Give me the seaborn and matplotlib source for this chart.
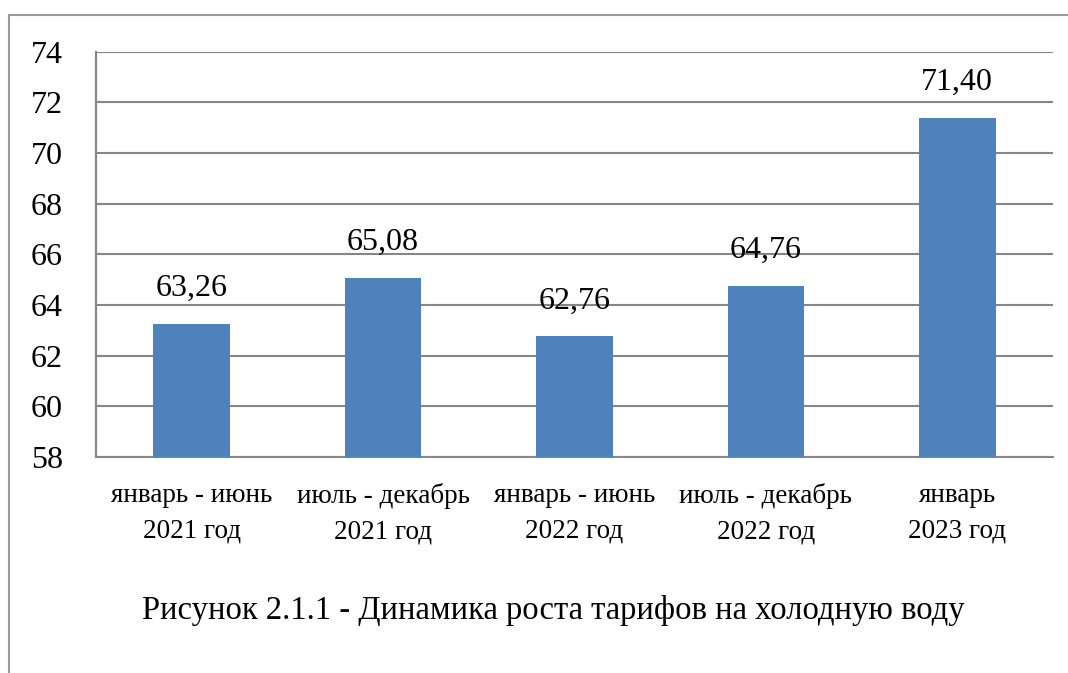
import numpy as np
import pandas as pd
import matplotlib
matplotlib.use("Agg")
import matplotlib.pyplot as plt
from matplotlib.lines import Line2D
import seaborn as sns

periods = ["январь - июнь\n2021 год", "июль - декабрь\n2021 год",
           "январь - июнь\n2022 год", "июль - декабрь\n2022 год",
           "январь\n2023 год"]
tariffs = [63.26, 65.08, 62.76, 64.76, 71.40]
y_ticks = [58, 60, 62, 64, 66, 68, 70, 72, 74]
caption = "Рисунок 2.1.1 - Динамика роста тарифов на холодную воду"

df = pd.DataFrame({"period": periods, "tariff": tariffs})

sns.set_style("white")
plt.rcParams["font.family"] = ["Liberation Serif", "DejaVu Serif"]
plt.rcParams["text.color"] = "black"
plt.rcParams["xtick.labelcolor"] = "black"
plt.rcParams["ytick.labelcolor"] = "black"

grid_col = "#868686"

fig = plt.figure(figsize=(10.68, 6.73), dpi=100)
ax = fig.add_axes([0.0899, 0.321, 0.896, 0.602])

sns.barplot(data=df, x="period", y="tariff", color="#4F81BD", width=0.4,
            saturation=1, linewidth=0, ax=ax, zorder=3)

ax.set_ylim(58, 74)
ax.set_xlim(-0.5, len(periods) - 0.5)
ax.set_yticks(y_ticks)
ax.set_yticklabels([str(t) for t in y_ticks], fontsize=23, color="black")
ax.yaxis.grid(True, color=grid_col, linewidth=1.5, zorder=0)
ax.set_axisbelow(True)

# category boundaries as major ticks, labels on minor ticks at centres
ax.set_xticks(np.arange(-0.5, len(periods)), labels=[""] * (len(periods) + 1))
ax.set_xticks(np.arange(len(periods)), minor=True)
ax.set_xticklabels(periods, minor=True, fontsize=19.5, linespacing=1.55, color="black")
ax.tick_params(axis="x", which="major", length=8, width=1.5, color=grid_col, direction="out")
ax.tick_params(axis="x", which="minor", length=0, pad=19)
ax.tick_params(axis="y", length=10, width=1.5, color=grid_col, direction="out", pad=14)

for s in ["top", "right"]:
    ax.spines[s].set_visible(False)
for s in ["left", "bottom"]:
    ax.spines[s].set_color(grid_col)
    ax.spines[s].set_linewidth(1.5)

ax.set_xlabel("")
ax.set_ylabel("")

for i, v in enumerate(tariffs):
    ax.annotate(f"{v:.2f}".replace(".", ","), (i, v), xytext=(0, 15),
                textcoords="offset points", ha="center", va="bottom",
                fontsize=23, color="black")

fig.text(553 / 1068, 1 - 610 / 673, caption, ha="center", va="center",
         fontsize=23.5, color="black")

# outer frame of the picture
fx = 9 / 1068
fy = 1 - 15 / 673
fig.add_artist(Line2D([fx, 1], [fy, fy], color="#9a9a9a", lw=1.5, transform=fig.transFigure))
fig.add_artist(Line2D([fx, fx], [0, fy], color="#9a9a9a", lw=1.5, transform=fig.transFigure))

fig.savefig("out.png", dpi=100)
